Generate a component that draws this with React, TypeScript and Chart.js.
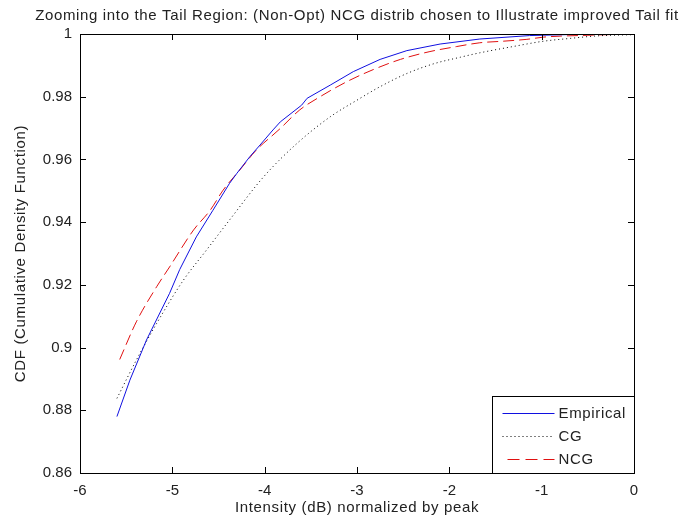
import React, { useEffect, useRef } from "react";
import { Chart, registerables } from "chart.js";

Chart.register(...registerables);

const TITLE = "Zooming into the Tail Region: (Non-Opt) NCG distrib chosen to Illustrate improved Tail fit";
const X_TITLE = "Intensity (dB) normalized by peak";
const Y_TITLE = "CDF (Cumulative Density Function)";

const empiricalX = [-5.60, -5.46, -5.28, -5.03, -4.92, -4.74, -4.56, -4.38, -4.30, -4.16, -4.05, -3.91, -3.83, -3.60, -3.54, -3.29, -3.04, -2.75, -2.46, -2.10, -1.67, -1.13, -0.60, 0];
const empiricalY = [0.878, 0.8896, 0.9024, 0.9173, 0.9249, 0.9353, 0.9438, 0.9524, 0.9556, 0.9609, 0.9646, 0.9694, 0.9720, 0.9773, 0.9795, 0.9837, 0.988, 0.9919, 0.9947, 0.9968, 0.9984, 0.9995, 0.9999, 1.0];

const cgX = [-5.60, -5.39, -5.17, -4.88, -4.63, -4.38, -4.01, -3.65, -3.29, -3.00, -2.75, -2.46, -2.17, -1.88, -1.67, -1.31, -0.98, -0.69, -0.40, 0];
const cgY = [0.8838, 0.896, 0.9077, 0.9215, 0.9311, 0.9407, 0.9545, 0.9651, 0.9736, 0.9789, 0.9832, 0.9874, 0.9905, 0.9926, 0.9940, 0.996, 0.9977, 0.9986, 0.9994, 0.9998];

const ncgX = [-5.57, -5.39, -5.17, -5.03, -4.77, -4.59, -4.45, -4.27, -4.09, -3.91, -3.83, -3.62, -3.40, -3.11, -2.82, -2.53, -2.21, -1.92, -1.67, -1.42, -1.16, -0.98, -0.5, 0];
const ncgY = [0.8962, 0.9082, 0.9194, 0.9257, 0.9375, 0.9438, 0.9502, 0.9566, 0.963, 0.9678, 0.9699, 0.9758, 0.98, 0.9848, 0.9887, 0.9919, 0.9944, 0.996, 0.9972, 0.9977, 0.9983, 0.999, 0.9996, 1.0];

const seriesNames = ["Empirical", "CG", "NCG"];

const FONT = "'Liberation Sans', Arial, sans-serif";
const TEXT_COLOR = "#222";
const SPACING = "0.65px";

const zip = (xs: number[], ys: number[]) => xs.map((x, i) => ({ x, y: ys[i] }));

const frameAndLegend = {
  id: "frameAndLegend",
  afterDraw(chart: any) {
    const { ctx, chartArea } = chart;
    const { left, right, top, bottom } = chartArea;
    const xs = chart.scales.x;
    const ys = chart.scales.y;
    ctx.save();
    ctx.strokeStyle = "#000";
    ctx.lineWidth = 1;
    ctx.setLineDash([]);
    ctx.strokeRect(Math.round(left) + 0.5, Math.round(top) + 0.5, Math.round(right - left), Math.round(bottom - top));
    const tl = 6;
    ctx.beginPath();
    xs.ticks.forEach((t: any) => {
      const px = Math.round(xs.getPixelForValue(t.value)) + 0.5;
      ctx.moveTo(px, bottom);
      ctx.lineTo(px, bottom - tl);
      ctx.moveTo(px, top);
      ctx.lineTo(px, top + tl);
    });
    ys.ticks.forEach((t: any) => {
      const py = Math.round(ys.getPixelForValue(t.value)) + 0.5;
      ctx.moveTo(left, py);
      ctx.lineTo(left + tl, py);
      ctx.moveTo(right, py);
      ctx.lineTo(right - tl, py);
    });
    ctx.stroke();

    // titles
    const cx = (left + right) / 2;
    const cy = (top + bottom) / 2;
    ctx.font = `15px ${FONT}`;
    (ctx as any).letterSpacing = SPACING;
    ctx.fillStyle = TEXT_COLOR;
    ctx.textAlign = "center";
    ctx.textBaseline = "middle";
    ctx.fillText(TITLE, cx, 16);
    ctx.fillText(X_TITLE, cx, 508);
    ctx.save();
    ctx.translate(21, cy);
    ctx.rotate(-Math.PI / 2);
    ctx.fillText(Y_TITLE, 0, 0);
    ctx.restore();

    // legend
    const bw = 142;
    const bh = 77;
    const bx = Math.round(right) - bw + 0.5;
    const by = Math.round(bottom) - bh + 0.5;
    ctx.fillStyle = "#fff";
    ctx.fillRect(bx, by, bw, bh);
    ctx.strokeStyle = "#000";
    ctx.strokeRect(bx, by, bw, bh);
    ctx.textBaseline = "middle";
    ctx.textAlign = "left";
    chart.data.datasets.forEach((ds: any, i: number) => {
      const yy = Math.round(by + 16 + i * 23) + 0.5;
      ctx.strokeStyle = ds.borderColor;
      ctx.lineWidth = ds.borderWidth;
      if (i === 2) {
        ctx.setLineDash([12, 6]);
        ctx.lineDashOffset = 13;
      } else {
        ctx.setLineDash(ds.borderDash || []);
        ctx.lineDashOffset = 0;
      }
      ctx.beginPath();
      ctx.moveTo(bx + 10, yy);
      ctx.lineTo(bx + 62, yy);
      ctx.stroke();
      ctx.fillStyle = TEXT_COLOR;
      ctx.fillText(ds.label, bx + 66, yy);
    });
    ctx.restore();
  },
};

export default function App() {
  const canvasRef = useRef<HTMLCanvasElement | null>(null);

  useEffect(() => {
    const canvas = canvasRef.current;
    if (!canvas) return;
    const chart = new Chart(canvas, {
      type: "line",
      data: {
        datasets: [
          {
            label: seriesNames[0],
            data: zip(empiricalX, empiricalY),
            borderColor: "#1010e0",
            borderWidth: 1,
            pointRadius: 0,
            tension: 0,
          },
          {
            label: seriesNames[1],
            data: zip(cgX, cgY),
            borderColor: "#000",
            borderWidth: 1,
            borderDash: [1, 3],
            pointRadius: 0,
            cubicInterpolationMode: "monotone",
          },
          {
            label: seriesNames[2],
            data: zip(ncgX, ncgY),
            borderColor: "#e01010",
            borderWidth: 1,
            borderDash: [11, 5],
            pointRadius: 0,
            cubicInterpolationMode: "monotone",
          },
        ],
      },
      options: {
        responsive: false,
        animation: false,
        devicePixelRatio: 1,
        layout: { padding: { left: 0, right: 64, top: 34, bottom: 0 } },
        plugins: {
          legend: { display: false },
          tooltip: { enabled: false },
          title: { display: false },
        },
        scales: {
          x: {
            type: "linear",
            min: -6,
            max: 0,
            grid: { display: false, drawTicks: false },
            border: { display: false },
            ticks: {
              stepSize: 1,
              padding: 9,
              color: TEXT_COLOR,
              font: { family: FONT, size: 15 },
              maxRotation: 0,
            },
            afterFit: (s: any) => {
              s.height = 48;
            },
          },
          y: {
            type: "linear",
            min: 0.86,
            max: 1,
            grid: { display: false, drawTicks: false },
            border: { display: false },
            ticks: {
              stepSize: 0.02,
              padding: 8,
              color: TEXT_COLOR,
              font: { family: FONT, size: 15 },
              callback: (v: any) => String(+Number(v).toFixed(2)),
            },
            afterFit: (s: any) => {
              s.width = 80;
            },
          },
        },
      },
      plugins: [frameAndLegend],
    });
    return () => chart.destroy();
  }, []);

  return (
    <div style={{ position: "fixed", left: 0, top: 0, width: 698, height: 521, background: "#fff" }}>
      <canvas ref={canvasRef} width={698} height={521} style={{ width: 698, height: 521, display: "block" }} />
    </div>
  );
}
